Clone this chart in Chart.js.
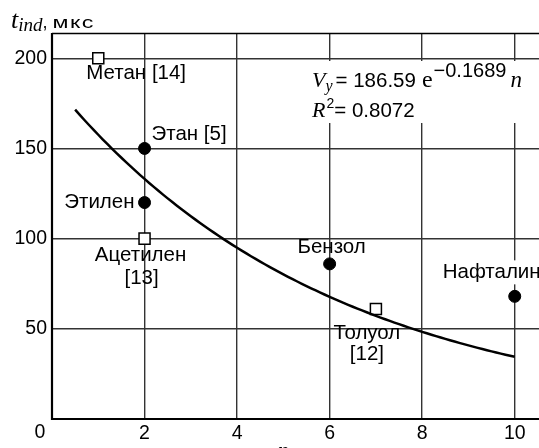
<!DOCTYPE html>
<html><head><meta charset="utf-8">
<script src="https://cdn.jsdelivr.net/npm/chart.js@4/dist/chart.umd.min.js"></script>
<style>
html,body{margin:0;padding:0;background:#fff;overflow:hidden;width:539px;height:448px;}
#wrap{position:absolute;left:0;top:0;width:600px;height:448px;}
</style></head><body>
<div id="wrap"><canvas id="c" width="600" height="448"></canvas></div>
<script>
// Axis ticks
const xTicks = [0, 2, 4, 6, 8, 10];
const yTicks = [0, 50, 100, 150, 200];

// Literature data (open squares)
const litNames = ['Метан [14]', 'Ацетилен [13]', 'Толуол [12]'];
const litN = [1, 2, 7];
const litT = [200, 100, 61];

// Measured data (filled circles)
const measNames = ['Этан [5]', 'Этилен', 'Бензол', 'Нафталин'];
const measN = [2, 2, 6, 10];
const measT = [150, 120, 86, 68];

// Exponential fit V_y = A e^(-B n)
const fitA = 186.59;
const fitB = 0.1689;
const fitR2 = 0.8072;
const fitFrom = 0.5, fitTo = 10, fitStep = 0.1;

const fitPts = [];
for (let n = fitFrom; n <= fitTo + 1e-9; n += fitStep) {
  fitPts.push({x: n, y: fitA * Math.exp(-fitB * n)});
}

const SANS = '"Liberation Sans", Arial, sans-serif';
const SERIF = '"Liberation Serif", "Times New Roman", serif';
const LABEL_FONT = '20.5px ' + SANS;

// Label placement (pixel offsets from the point)
const labelStyle = {
  'Метан [14]':   [{t: 'Метан [14]', dx: -12, dy: 15, align: 'left'}],
  'Ацетилен [13]':[{t: 'Ацетилен', dx: -4, dy: 17, align: 'center'}, {t: '[13]', dx: -3, dy: 40, align: 'center'}],
  'Толуол [12]':  [{t: 'Толуол', dx: -9, dy: 24, align: 'center'}, {t: '[12]', dx: -9, dy: 45, align: 'center'}],
  'Этан [5]':     [{t: 'Этан [5]', dx: 7, dy: -14, align: 'left'}],
  'Этилен':       [{t: 'Этилен', dx: -10, dy: 0, align: 'right'}],
  'Бензол':       [{t: 'Бензол', dx: 2, dy: -17, align: 'center'}],
  'Нафталин':     [{t: 'Нафталин', dx: -72, dy: -24, align: 'left', bg: true}]
};

// Draws a row of text runs (sub/superscripts via dy, optional horizontal stretch sx)
function drawRuns(ctx, x, y, runs) {
  for (const r of runs) {
    ctx.font = r.font;
    ctx.letterSpacing = r.ls || '0px';
    if (r.pre) x += r.pre;
    const sx = r.sx || 1;
    ctx.save();
    ctx.translate(x, y + (r.dy || 0));
    ctx.scale(sx, 1);
    ctx.fillText(r.t, 0, 0);
    ctx.restore();
    x += ctx.measureText(r.t).width * sx + (r.gap || 0);
  }
  ctx.letterSpacing = '0px';
  return x;
}

const decor = {
  id: 'decor',
  beforeDatasetsDraw(chart) {
    const {ctx, chartArea: a} = chart;
    ctx.save();
    ctx.strokeStyle = '#000';
    ctx.lineWidth = 1.5;
    ctx.beginPath(); ctx.moveTo(a.left, a.top + 0.5); ctx.lineTo(a.right, a.top + 0.5); ctx.stroke();
    ctx.lineWidth = 2.2;
    ctx.beginPath();
    ctx.moveTo(a.left, a.top); ctx.lineTo(a.left, a.bottom); ctx.lineTo(a.right, a.bottom);
    ctx.stroke();
    ctx.restore();
  },
  afterDatasetsDraw(chart) {
    const {ctx, scales: {x, y}} = chart;
    ctx.save();
    ctx.fillStyle = '#000';
    ctx.textBaseline = 'middle';
    const place = (names, ns, ts) => names.forEach((nm, i) => {
      const px = x.getPixelForValue(ns[i]), py = y.getPixelForValue(ts[i]);
      for (const l of labelStyle[nm]) {
        ctx.font = LABEL_FONT;
        ctx.textAlign = l.align;
        if (l.bg) {
          const w = ctx.measureText(l.t).width;
          const lx = l.align === 'left' ? px + l.dx : l.align === 'right' ? px + l.dx - w : px + l.dx - w / 2;
          ctx.fillStyle = '#fff';
          ctx.fillRect(lx - 3, py + l.dy - 12, w + 6, 24);
          ctx.fillStyle = '#000';
        }
        ctx.fillText(l.t, px + l.dx, py + l.dy);
      }
    });
    place(litNames, litN, litT);
    place(measNames, measN, measT);

    // Fit equation
    ctx.textAlign = 'left';
    ctx.textBaseline = 'alphabetic';
    ctx.fillStyle = '#fff';
    ctx.fillRect(306, 61, 240, 62);
    ctx.fillStyle = '#000';
    drawRuns(ctx, 312, 87, [
      {t: 'V', font: 'italic 22px ' + SERIF},
      {t: 'y', font: 'italic 16px ' + SERIF, dy: 4, gap: 3},
      {t: '= ' + fitA.toFixed(2), font: '20.5px ' + SANS, gap: 6},
      {t: 'e', font: '24px ' + SERIF, gap: 1},
      {t: '\u2212' + fitB.toFixed(4), font: '20px ' + SANS, dy: -10, gap: 4},
      {t: 'n', font: 'italic 23px ' + SERIF}
    ]);
    drawRuns(ctx, 312, 117, [
      {t: 'R', font: 'italic 22px ' + SERIF},
      {t: '2', font: '14px ' + SANS, dy: -9, pre: 1},
      {t: '= ' + fitR2.toFixed(4), font: '20.5px ' + SANS}
    ]);

    // Axis titles
    drawRuns(ctx, 11, 28, [
      {t: 't', font: 'italic 26px ' + SERIF},
      {t: 'ind', font: 'italic 19px ' + SERIF, dy: 3},
      {t: ',', font: '18px ' + SANS, gap: 5},
      {t: 'мкс', font: '16px ' + SANS, sx: 1.45, ls: '1px'}
    ]);
    ctx.font = 'italic 22px ' + SERIF;
    ctx.textAlign = 'center';
    ctx.fillText('n', x.getPixelForValue(5), 457);

    // Origin label
    ctx.font = '19.5px ' + SANS;
    ctx.textBaseline = 'top';
    ctx.fillText('0', x.getPixelForValue(0) - 12, 423);
    ctx.restore();
  }
};

new Chart(document.getElementById('c'), {
  type: 'scatter',
  data: {
    datasets: [
      {
        label: 'fit', data: fitPts, showLine: true, borderColor: '#000', borderWidth: 2.5,
        pointRadius: 0, tension: 0, fill: false
      },
      {
        label: 'lit', data: litN.map((n, i) => ({x: n, y: litT[i]})),
        pointStyle: 'rect', pointRadius: 7.8, backgroundColor: '#fff', borderColor: '#000', borderWidth: 1.5
      },
      {
        label: 'meas', data: measN.map((n, i) => ({x: n, y: measT[i]})),
        pointStyle: 'circle', pointRadius: 6, backgroundColor: '#000', borderColor: '#000', borderWidth: 1
      }
    ]
  },
  options: {
    responsive: false, animation: false, devicePixelRatio: 1,
    layout: {padding: {top: 33, right: 39, left: 0, bottom: 0}},
    plugins: {legend: {display: false}, tooltip: {enabled: false}},
    scales: {
      x: {
        type: 'linear', min: 0, max: 11,
        afterBuildTicks: s => { s.ticks = xTicks.map(v => ({value: v})); },
        afterFit: s => { s.height = 29; },
        ticks: {callback: v => v === 0 ? '' : String(v), color: '#000', font: {family: SANS, size: 19.5}, padding: 3, maxRotation: 0, autoSkip: false},
        grid: {color: '#333', lineWidth: 1.4, drawTicks: false},
        border: {display: false}
      },
      y: {
        min: 0, max: 214,
        afterBuildTicks: s => { s.ticks = yTicks.map(v => ({value: v})); },
        afterFit: s => { s.width = 52; },
        ticks: {callback: v => v === 0 ? '' : String(v), color: '#000', font: {family: SANS, size: 19.5}, padding: 5},
        grid: {color: '#333', lineWidth: 1.4, drawTicks: false},
        border: {display: false}
      }
    }
  },
  plugins: [decor]
});
</script>
</body></html>
